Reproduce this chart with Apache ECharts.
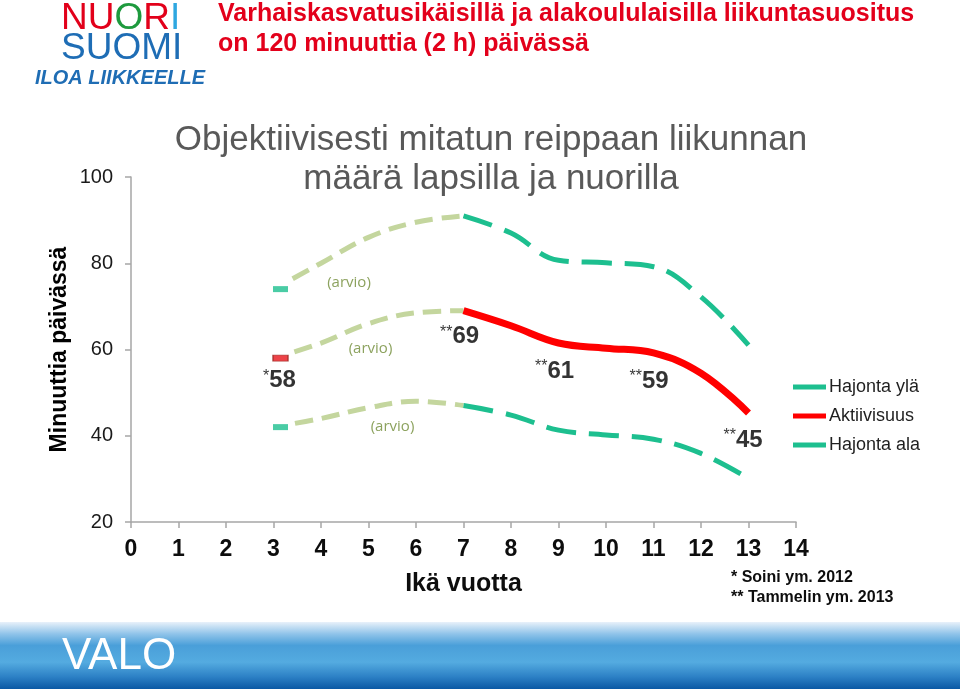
<!DOCTYPE html>
<html><head><meta charset="utf-8">
<script src="https://cdn.jsdelivr.net/npm/echarts@6/dist/echarts.min.js"></script>
<style>html,body{margin:0;padding:0;background:#fff}#c{width:960px;height:689px}</style>
</head><body><div id="c"></div>
<script>
// ---- data ----
const arvioIat = [3, 4, 5, 6, 7];
const mitattuIat = [7, 8, 9, 10, 11, 12, 13];
const ylaArvio = [74, 80, 86, 89.5, 91];
const aktArvio = [58, 61.5, 66, 68.5, 69];
const alaArvio = [42, 44, 46.5, 48, 47];
const ylaMitattu = [91, 87, 80.7, 80.1, 79.2, 72.2, 61];
const aktMitattu = [69, 65.5, 61.5, 60.3, 59.2, 54.5, 45.3];
const alaMitattu = [47, 44.8, 41.3, 40.2, 39.2, 35.9, 30.1];
const ika3 = 3;
const ika3Arvot = [74, 58, 42];
const arvoIat = [3, 7, 9, 11, 13];
const arvoTekstit = ['58', '69', '61', '59', '45'];
const lahteet = ['*', '**', '**', '**', '**'];
const xTicks = [0,1,2,3,4,5,6,7,8,9,10,11,12,13,14];
const yTicks = [20, 40, 60, 80, 100];

// ---- styles ----
const TEAL = '#1dbf8f', RED = '#ff0000', ARVIO = '#c4d69e', ARVIO_TXT = '#6f8b36';
const FONT = 'Liberation Sans, Arial, sans-serif';
function dashWithGap(gap, dash, space, n) { const a = [0.01, gap]; for (let i = 0; i < n; i++) a.push(dash, space); return a; }
const zip = (xs, ys) => xs.map((x, i) => [x, ys[i]]);
const aktAt = age => { const i = mitattuIat.indexOf(age); return i >= 0 ? aktMitattu[i] : aktArvio[arvioIat.indexOf(age)]; };
const labelOffsets = [[6, 22], [-4, 26], [-4, 28], [-4.5, 28], [-5.5, 27]];

const chart = echarts.init(document.getElementById('c'), null, {renderer: 'canvas'});
const arvioLine = (name, data) => ({
  name, type: 'line', data: zip(arvioIat, data), smooth: 0.4, symbol: 'none', silent: true, z: 2,
  itemStyle: {color: ARVIO}, lineStyle: {color: ARVIO, width: 5, type: dashWithGap(22, 18, 9, 9)}
});
const mitattuLine = (name, data, color, width, dash) => ({
  name, type: 'line', data: zip(mitattuIat, data), smooth: 0.4, symbol: 'none', z: 3,
  itemStyle: {color}, lineStyle: {color, width, type: dash}
});

chart.setOption({
  animation: false,
  backgroundColor: '#fff',
  title: {
    text: 'Objektiivisesti mitatun reippaan liikunnan\nmäärä lapsilla ja nuorilla',
    left: 486, top: 116, textAlign: 'center',
    textStyle: {fontFamily: FONT, fontSize: 35, fontWeight: 'normal', color: '#595959', lineHeight: 39}
  },
  grid: {left: 131, right: 164, top: 177, bottom: 167},
  legend: {
    data: ['Hajonta ylä', 'Aktiivisuus', 'Hajonta ala'],
    orient: 'vertical', left: 788, top: 372, icon: 'rect', itemWidth: 33, itemHeight: 5, itemGap: 9,
    textStyle: {fontFamily: FONT, fontSize: 18, color: '#1f1f1f', lineHeight: 20, padding: [0, 0, 0, -2]}
  },
  xAxis: {
    type: 'value', min: xTicks[0], max: xTicks[xTicks.length - 1], interval: 1,
    name: 'Ikä vuotta', nameLocation: 'middle', nameGap: 50, nameMoveOverlap: false,
    nameTextStyle: {fontFamily: FONT, fontSize: 25, fontWeight: 'bold', color: '#0d0d0d'},
    axisLine: {show: true, lineStyle: {color: '#a6a6a6', width: 1.5}},
    axisTick: {show: true, length: 6, lineStyle: {color: '#a6a6a6', width: 1.5}},
    splitLine: {show: false},
    axisLabel: {fontFamily: FONT, fontSize: 23, fontWeight: 'bold', color: '#0d0d0d', margin: 16}
  },
  yAxis: {
    type: 'value', min: yTicks[0], max: yTicks[yTicks.length - 1], interval: 20,
    name: 'Minuuttia päivässä', nameLocation: 'middle', nameGap: 60, nameMoveOverlap: false,
    nameTextStyle: {fontFamily: FONT, fontSize: 23, fontWeight: 'bold', color: '#000'},
    axisLine: {show: true, lineStyle: {color: '#a6a6a6', width: 1.5}},
    axisTick: {show: true, length: 6, lineStyle: {color: '#a6a6a6', width: 1.5}},
    splitLine: {show: false},
    axisLabel: {fontFamily: FONT, fontSize: 20, color: '#1a1a1a', margin: 18}
  },
  series: [
    arvioLine('arvio ylä', ylaArvio),
    arvioLine('arvio akt', aktArvio),
    arvioLine('arvio ala', alaArvio),
    mitattuLine('Hajonta ylä', ylaMitattu, TEAL, 5, [30, 13]),
    mitattuLine('Aktiivisuus', aktMitattu, RED, 7, 'solid'),
    mitattuLine('Hajonta ala', alaMitattu, TEAL, 5, [30, 13]),
    {
      name: 'ika3', type: 'scatter', z: 5, silent: true,
      symbol: 'rect', symbolSize: [15, 6], symbolOffset: [7, 0],
      data: ika3Arvot.map((v, i) => ({value: [ika3, v], itemStyle: {color: i === 1 ? '#e8141a' : TEAL, borderColor: i === 1 ? '#a0302a' : TEAL, borderWidth: i === 1 ? 1 : 0}}))
    },
    {
      name: 'arvot', type: 'scatter', z: 6, silent: true, symbolSize: 1,
      itemStyle: {color: 'rgba(0,0,0,0)'},
      data: arvoIat.map((a, i) => ({
        value: [a, aktAt(a)],
        label: {
          show: true, position: 'inside', offset: labelOffsets[i],
          formatter: '{s|' + lahteet[i] + '}{v|' + arvoTekstit[i] + '}',
          rich: {
            s: {fontFamily: FONT, fontSize: 16, color: '#000', verticalAlign: 'top', lineHeight: 24},
            v: {fontFamily: FONT, fontSize: 24, fontWeight: 'bold', color: '#000', lineHeight: 24}
          }
        }
      }))
    },
    {
      name: 'arvio-tekstit', type: 'scatter', z: 6, silent: true, symbolSize: 1,
      itemStyle: {color: 'rgba(0,0,0,0)'},
      data: [
        {value: [4, ylaArvio[1]], off: [28, 19]},
        {value: [5, aktArvio[2]], off: [2, 25]},
        {value: [5, alaArvio[2]], off: [24, 19]}
      ].map(d => ({value: d.value, label: {show: true, position: 'inside', offset: d.off, formatter: '(arvio)',
        fontFamily: 'Open Sans, sans-serif', fontSize: 15, fontWeight: 500, color: ARVIO_TXT}}))
    }
  ],
  graphic: [
    {type: 'rect', silent: true, z: -1, shape: {x: 0, y: 622, width: 960, height: 67},
      style: {fill: new echarts.graphic.LinearGradient(0, 0, 0, 1, [
        {offset: 0, color: '#e8f1fa'}, {offset: 0.18, color: '#8fc3e9'}, {offset: 0.35, color: '#4a9fd9'},
        {offset: 0.6, color: '#54abe0'}, {offset: 0.82, color: '#2c80c5'}, {offset: 1, color: '#0a58a4'}])}},
    {type: 'text', silent: true, x: 62, y: 657,
      style: {text: 'VALO', font: '44px ' + FONT, fill: '#fff', verticalAlign: 'middle'}},
    {type: 'text', silent: true, x: 218, y: -1,
      style: {text: 'Varhaiskasvatusikäisillä ja alakoululaisilla liikuntasuositus\non 120 minuuttia (2 h) päivässä',
        font: 'bold 25px ' + FONT, fill: '#e3001b', lineHeight: 30}},
    {type: 'text', silent: true, x: 61, y: 19,
      style: {text: '{r|NU}{g|O}{r|R}{b|I}', font: '37px ' + FONT, verticalAlign: 'middle',
        rich: {r: {fill: '#e2001a', font: '37px ' + FONT}, g: {fill: '#1e9a3e', font: '37px ' + FONT}, b: {fill: '#2ea7e0', font: '37px ' + FONT}}}},
    {type: 'text', silent: true, x: 61, y: 49,
      style: {text: 'SUOMI', font: '37px ' + FONT, fill: '#1e6db5', verticalAlign: 'middle'}},
    {type: 'text', silent: true, x: 35, y: 78,
      style: {text: 'ILOA LIIKKEELLE', font: 'italic bold 20px ' + FONT, fill: '#1f6db4', verticalAlign: 'middle'}},
    {type: 'text', silent: true, x: 731, y: 568,
      style: {text: '* Soini ym. 2012\n** Tammelin ym. 2013', font: 'bold 16px ' + FONT, fill: '#0d0d0d', lineHeight: 20}}
  ]
});
</script>
</body></html>
